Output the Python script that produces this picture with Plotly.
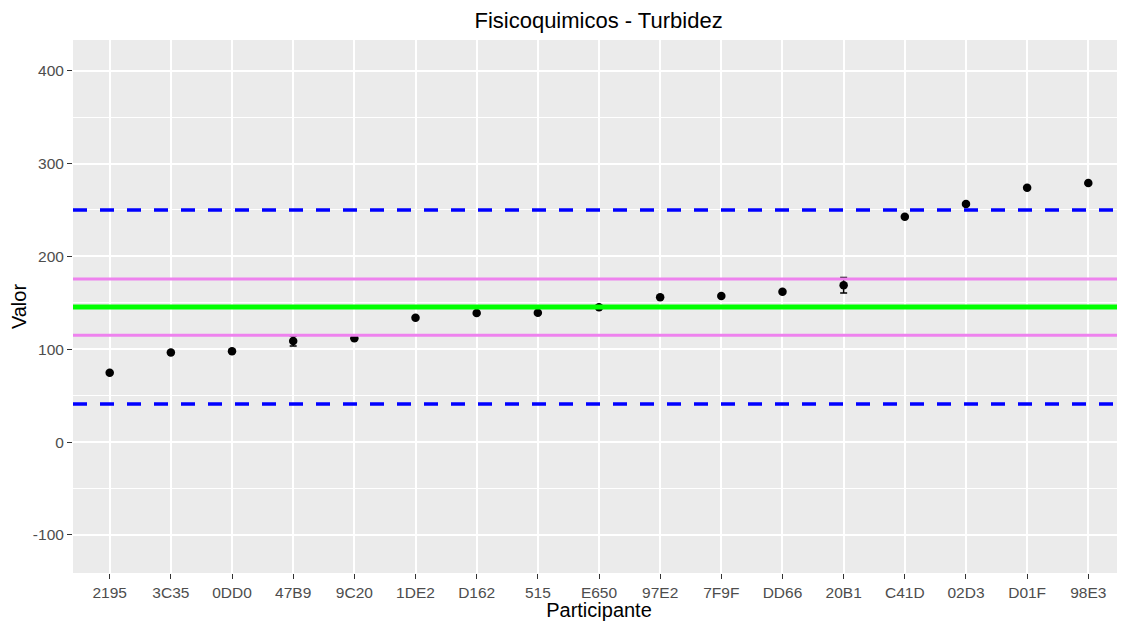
import plotly.graph_objects as go

participantes = ["2195", "3C35", "0DD0", "47B9", "9C20", "1DE2", "D162", "515", "E650",
                 "97E2", "7F9F", "DD66", "20B1", "C41D", "02D3", "D01F", "98E3"]
valores = [74.7, 96.5, 97.8, 108.9, 111.8, 134.0, 139.0, 139.3, 145.3,
           156.0, 157.4, 162.0, 168.9, 242.6, 256.3, 273.9, 278.9]
incertidumbre = [0, 0, 0, 5.4, 0, 0, 0, 0, 0, 0, 0, 0, 8.3, 0, 0, 0, 0]

valor_asignado = 145.5
limites_internos = [115.0, 175.7]
limites_externos = [41.0, 249.8]

y_ticks = [-100, 0, 100, 200, 300, 400]
y_tick_labels = ["-100", "0", "100", "200", "300", "400"]

fig = go.Figure()

def hline(v, color, width, dash="solid"):
    fig.add_trace(go.Scatter(
        x=[0, 1], y=[v, v], xaxis="x2", yaxis="y", mode="lines",
        line=dict(color=color, width=width, dash=dash),
        showlegend=False, hoverinfo="skip",
    ))

for v in limites_externos:
    hline(v, "#0000FF", 3.5, "14px,13px")
for v in limites_internos:
    hline(v, "#EE82EE", 3)
hline(valor_asignado, "#00FF00", 5)

fig.add_trace(go.Scatter(
    x=participantes, y=valores, mode="markers",
    marker=dict(color="black", size=8.5),
    error_y=dict(type="data", array=incertidumbre, visible=True,
                 color="black", thickness=1.5, width=3.5),
    showlegend=False,
))

fig.update_layout(
    width=1117, height=613,
    margin=dict(l=65, r=0, t=32, b=48, autoexpand=False),
    paper_bgcolor="white", plot_bgcolor="#EBEBEB",
    font=dict(family="Liberation Sans, Arial, sans-serif", color="black"),
    title=dict(text="Fisicoquimicos - Turbidez", x=0.5287, xanchor="center",
               y=0.9800, yanchor="middle", font=dict(size=22, color="black")),
    xaxis2=dict(overlaying="x", range=[0, 1], visible=False, showgrid=False, fixedrange=True),
)
fig.layout.xaxis.update(
    type="category", range=[-0.6, 16.6], automargin=False,
    showgrid=True, gridcolor="white", gridwidth=1.8, zeroline=False,
    ticks="outside", ticklen=5, tickcolor="#333333", tickwidth=1.3,
    tickfont=dict(size=15.5, color="#4D4D4D"),
    title=dict(text="Participante", font=dict(size=20), standoff=1),
)
fig.layout.yaxis.update(
    range=[-141, 433], tickvals=y_ticks, ticktext=y_tick_labels, automargin=False,
    showgrid=True, gridcolor="white", gridwidth=1.8, zeroline=False,
    minor=dict(tickvals=[-50, 50, 150, 250, 350], showgrid=True, gridcolor="white", gridwidth=0.9, ticks=""),
    ticks="outside", ticklen=5, tickcolor="#333333", tickwidth=1.3,
    tickfont=dict(size=15.5, color="#4D4D4D"),
    title=dict(text="Valor", font=dict(size=20), standoff=4),
)

fig.write_html("out.html")
